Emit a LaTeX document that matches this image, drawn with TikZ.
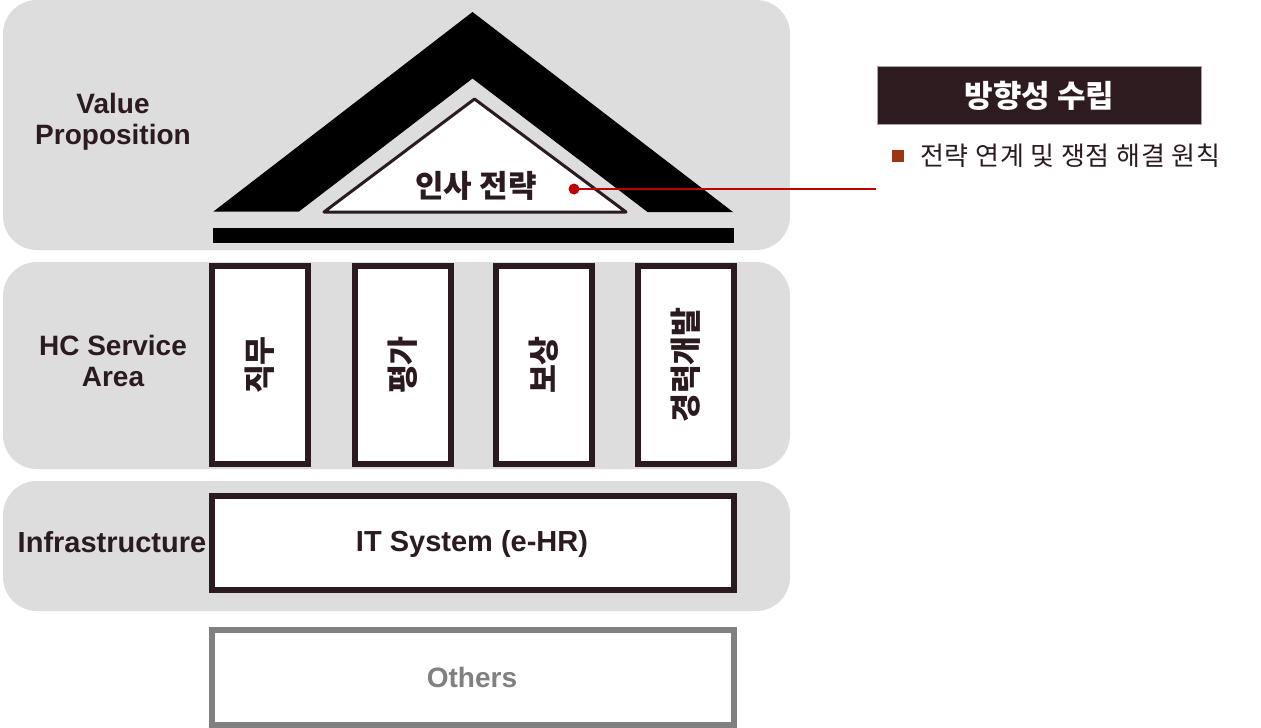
\documentclass[tikz,border=0pt]{standalone}
\usepackage{fontspec}
\setmainfont{Liberation Sans}
\newfontfamily\kr{Noto Sans CJK KR}
\definecolor{panel}{HTML}{DDDDDD}
\definecolor{ink}{HTML}{2B1B1F}
\definecolor{boxfill}{HTML}{2E1B1F}
\definecolor{accent}{HTML}{C00000}
\definecolor{bullet}{HTML}{9E3512}
\definecolor{othergray}{HTML}{808080}
\tikzset{
  panelbox/.style={fill=panel, draw=none, rounded corners=34pt},
  label/.style={font=\bfseries\fontsize{28}{31}\selectfont, text=ink, align=center, inner sep=0pt},
  pillar/.style={draw=ink, line width=6pt, fill=white, minimum width=96pt, minimum height=198pt, inner sep=0pt, outer sep=0pt},
  pillartext/.style={font=\kr\bfseries\fontsize{31.5}{34}\selectfont, text=ink, rotate=90},
  widebox/.style={line width=6pt, fill=white, minimum width=522pt, inner sep=0pt, outer sep=0pt},
}
\begin{document}
\begin{tikzpicture}[x=1pt, y=-1pt]
\useasboundingbox (0,0) rectangle (1261,728);
\fill[white] (0,0) rectangle (1261,728);
% panels
\path[panelbox] (3,0) rectangle (790,250);
\path[panelbox] (3,262) rectangle (790,469);
\path[panelbox] (3,481) rectangle (790,611);
% row labels
\node[label] (vp) at (113,122) {Value\\Proposition};
\node[label] (hc) at (113,361) {HC Service\\Area};
\node[label, font=\bfseries\fontsize{29}{31}\selectfont] (inf) at (112,542) {Infrastructure};
% roof
\coordinate (ra) at (472.5,12);
\coordinate (rl) at (213.5,211.5);
\coordinate (rr) at (733,212);
\coordinate (ril) at (299,211.5);
\coordinate (ria) at (472.5,78.5);
\coordinate (rir) at (647.5,212);
\fill[black] (rl) -- (ra) -- (rr) -- (rir) -- (ria) -- (ril) -- cycle;
% strategy triangle
\coordinate (ta) at (474.5,99);
\coordinate (tl) at (324,212);
\coordinate (tr) at (626,212);
\draw[ink, fill=white, line width=3pt, line join=round] (tl) -- (ta) -- (tr) -- cycle;
\node[font=\kr\bfseries\fontsize{31}{34}\selectfont, text=ink, inner sep=0pt] (strat) at (476,186) {인사 전략};
% beam
\fill[black] (212.5,228) rectangle (734,243);
% callout
\node[circle, fill=accent, minimum size=11pt, inner sep=0pt] (dot) at (574,189) {};
\coordinate (lineend) at (876,189);
\draw[accent, line width=1.5pt] (dot.center) -- (lineend);
\node[fill=boxfill, draw=gray!70, line width=1.5pt, minimum width=324pt, minimum height=58pt, inner sep=0pt,
      font=\kr\bfseries\fontsize{31}{34}\selectfont, text=white] (head) at (1039.5,95.5) {방향성 수립};
\node[fill=bullet, minimum size=12pt, inner sep=0pt] (bul) at (898,156) {};
\node[anchor=west, font=\kr\fontsize{26}{30}\selectfont, text=ink, inner sep=0pt] (desc) at (920,156) {\addfontfeature{LetterSpace=3}전략 연계 및 쟁점 해결 원칙};
% pillars
\node[pillar] (p1) at (260,365) {};
\node[pillar] (p2) at (402.5,365) {};
\node[pillar] (p3) at (544,365) {};
\node[pillar] (p4) at (686,365) {};
\node[pillartext] at (p1) {직무};
\node[pillartext] at (p2) {평가};
\node[pillartext] at (p3) {보상};
\node[pillartext] at (p4) {경력개발};
% infrastructure
\node[widebox, draw=ink, minimum height=94pt, text=ink] (it) at (473,542.5) {};
\node[font=\bfseries\fontsize{29}{31}\selectfont, text=ink, inner sep=0pt] at (472,544) {IT System (e-HR)};
\node[widebox, draw=othergray, minimum height=95pt, font=\bfseries\fontsize{28}{31}\selectfont, text=othergray] (oth) at (473,677.5) {};
\node[font=\bfseries\fontsize{28}{31}\selectfont, text=othergray, inner sep=0pt] at (472,677) {Others};
\end{tikzpicture}
\end{document}
